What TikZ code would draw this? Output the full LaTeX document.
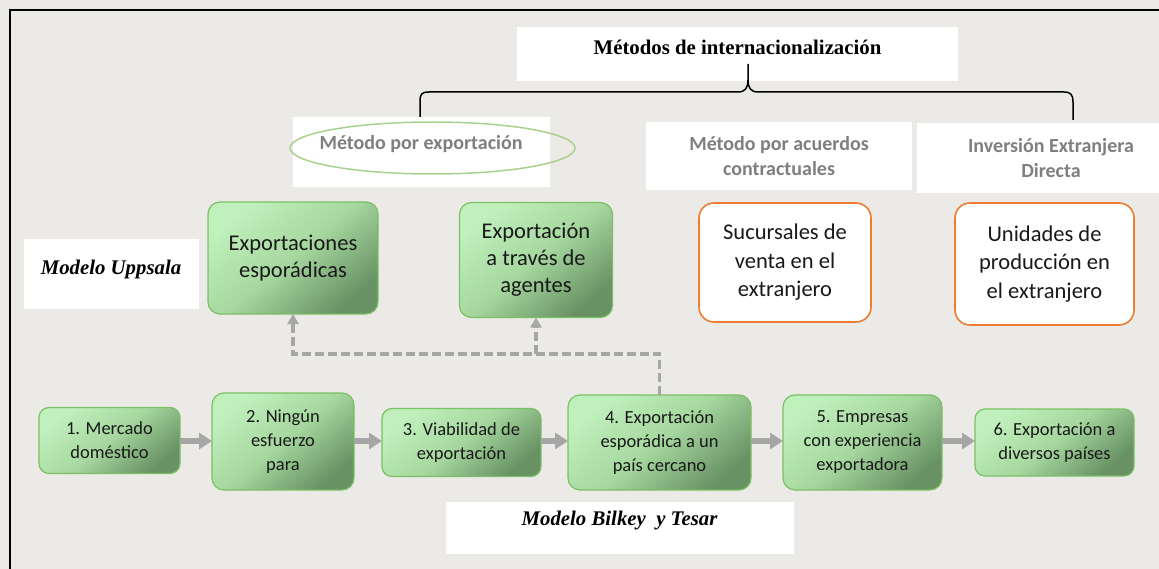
\documentclass[tikz,border=0pt]{standalone}
\usepackage{fontspec}
\setmainfont{Carlito}
\newfontfamily\tnr{Liberation Serif}
\usetikzlibrary{arrows.meta,shapes.geometric,calc}
\definecolor{bgc}{RGB}{236,234,231}
\definecolor{gL}{RGB}{192,240,188}
\definecolor{gM}{RGB}{165,215,158}
\definecolor{gD}{RGB}{104,146,100}
\definecolor{gB}{RGB}{122,192,100}
\definecolor{orng}{RGB}{237,125,49}
\definecolor{ellc}{RGB}{169,209,142}
\definecolor{lbl}{RGB}{127,127,127}
\definecolor{arrc}{RGB}{166,166,166}
\definecolor{txt}{RGB}{25,25,25}
\tikzset{
  gbox/.style={draw=gB, line width=1.2pt, rounded corners=12pt,
    top color=gL, bottom color=gD, middle color=gM, shading angle=40,
    align=center, text=txt, inner sep=0pt, outer sep=0pt},
  topfont/.style={font=\fontsize{22.5}{27}\selectfont},
  botfont/.style={font=\fontsize{18.5}{24}\selectfont},
  obox/.style={draw=orng, line width=1.6pt, rounded corners=15pt, fill=white,
    align=center, text=txt, inner sep=0pt, outer sep=0pt,
    font=\fontsize{22.5}{28.5}\selectfont},
  wbox/.style={fill=white, draw=none, inner sep=0pt, outer sep=0pt, align=center},
  graylbl/.style={text=lbl, font=\bfseries\fontsize{20}{25.5}\selectfont, align=center},
  serif/.style={font=\tnr\bfseries\itshape\fontsize{20.8}{25}\selectfont},
  bigarr/.style={draw=arrc, line width=6pt, -{Triangle[length=13pt,width=16pt]}},
  dsh/.style={draw=arrc, line width=3.2pt, dash pattern=on 9pt off 4pt,
    -{Triangle[length=10pt,width=11pt]}},
  brace/.style={draw=black, line width=1.5pt}
}
\begin{document}
\begin{tikzpicture}[x=1pt,y=-1pt]
\useasboundingbox (0,0) rectangle (1159,569);
\fill[bgc] (0,0) rectangle (1159,569);
\draw[line width=2pt] (10,569) -- (10,10) -- (1159,10);

% title
\node[wbox, minimum width=441pt, minimum height=54pt] (tbox) at (737.5,54) {};
\node[font=\tnr\bfseries\fontsize{20.8}{25}\selectfont, text=black] (ttl) at (737.5,47) {Métodos de internacionalización};

% brace
\draw[brace] (420,120) -- (420,101) .. controls (420,94) and (422,92) .. (429,92) -- (738,92) .. controls (745,92) and (748,88) .. (748,80) -- (748,64);
\draw[brace] (748,80) .. controls (748,88) and (751,92) .. (758,92) -- (1064,92) .. controls (1071,92) and (1073,95) .. (1073,102) -- (1073,120);

% method labels
\node[wbox, minimum width=257pt, minimum height=70pt] (mebox) at (421.5,152) {};
\node[draw=ellc, line width=1.5pt, ellipse, minimum width=285pt, minimum height=52pt, inner sep=0pt] (ellip) at (432.5,148) {};
\node[graylbl] (mexp) at (421,144) {Método por exportación};
\node[wbox, graylbl, minimum width=266pt, minimum height=68pt] (macu) at (779,156) {Método por acuerdos\\contractuales};
\node[wbox, minimum width=242pt, minimum height=70pt] (iedbox) at (1038,158) {};
\node[graylbl] (ied) at (1051,158) {Inversión Extranjera\\Directa};

% Uppsala
\node[wbox, serif, minimum width=175pt, minimum height=70pt] (upp) at (111.5,274) {};
\node[serif] (uppt) at (111,269) {Modelo Uppsala};
\node[gbox, topfont, minimum width=170pt, minimum height=112pt] (ee) at (293,258) {Exportaciones\\esporádicas};
\node[gbox, topfont, minimum width=153pt, minimum height=115pt] (ag) at (536,260) {Exportación\\a través de\\agentes};
\node[obox, minimum width=172pt, minimum height=119pt] (suc) at (785,262.5) {Sucursales de\\venta en el\\extranjero};
\node[obox, minimum width=179pt, minimum height=122pt] (uni) at (1044.5,264) {Unidades de\\producción en\\el extranjero};

% Bilkey & Tesar steps
\node[gbox, botfont, rounded corners=10pt, minimum width=141pt, minimum height=66pt] (b1) at (109.5,440.5) {1. Mercado\\doméstico};
\node[gbox, botfont, minimum width=142pt, minimum height=97pt] (b2) at (283,441.5) {2. Ningún\\esfuerzo\\para};
\node[gbox, botfont, rounded corners=10pt, minimum width=159pt, minimum height=68pt] (b3) at (461.5,442.5) {3. Viabilidad de\\exportación};
\node[gbox, botfont, minimum width=183pt, minimum height=95pt] (b4) at (659.5,442.5) {4. Exportación\\esporádica a un\\país cercano};
\node[gbox, botfont, minimum width=159pt, minimum height=95pt] (b5) at (862.5,442.5) {5. Empresas\\con experiencia\\exportadora};
\node[gbox, botfont, rounded corners=10pt, minimum width=159pt, minimum height=67pt] (b6) at (1054.5,442.5) {6. Exportación a\\diversos países};

\node[wbox, minimum width=348pt, minimum height=52pt] (bkbox) at (620,527.5) {};
\node[serif] (bkt) at (619.5,521) {Modelo Bilkey\ \ y Tesar};

% arrows
\foreach \a/\b in {b1/b2,b2/b3,b3/b4,b4/b5,b5/b6}
  \draw[bigarr] (\a.east |- 0,441) -- (\b.west |- 0,441);

\coordinate (jr) at (b4.north |- 0,354);
\coordinate (ja) at (ag.south |- 0,354);
\draw[dsh] (b4.north) -- (jr) -| (ee.south);
\draw[dsh] (ja) -- (ag.south);
\end{tikzpicture}
\end{document}
